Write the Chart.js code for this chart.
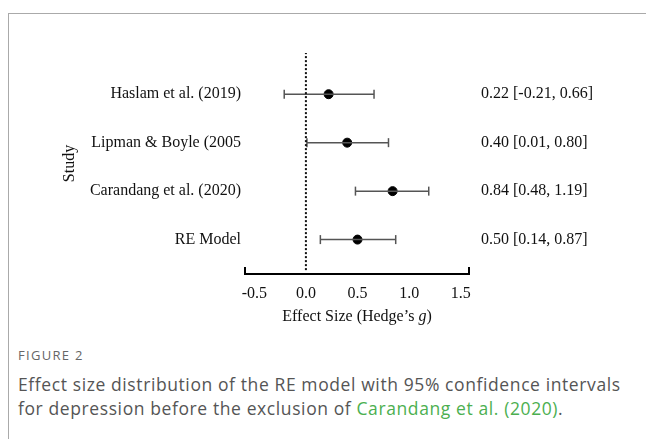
<!DOCTYPE html>
<html>
<head>
<meta charset="utf-8">
<script src="https://cdn.jsdelivr.net/npm/chart.js@4"></script>
<style>
  html, body { margin: 0; padding: 0; background: #fff; }
  body { width: 646px; height: 439px; position: relative; overflow: hidden; }
  .frame { position: absolute; left: 8px; top: 13px; right: 0; bottom: 0;
           border-top: 1px solid #aaa; border-left: 1px solid #aaa; }
  .plot { position: absolute; left: 0; top: 0; width: 646px; height: 340px; }
  .fig { position: absolute; left: 18px; top: 346px; font-family: "Open Sans", sans-serif;
         font-size: 13px; color: #666; letter-spacing: 1.3px; }
  .cap { position: absolute; left: 18px; top: 372px; width: 618px; font-family: "Open Sans", sans-serif;
         font-size: 17.5px; line-height: 24px; color: #555; letter-spacing: 0.6px; }
  .cap span { color: #4caf50; }
</style>
</head>
<body>
<div class="frame"></div>
<div class="plot"><canvas id="forest" width="646" height="340"></canvas></div>
<div class="fig">FIGURE 2</div>
<div class="cap">Effect size distribution of the RE model with 95% confidence intervals for depression before the exclusion of <span>Carandang et al. (2020)</span>.</div>
<script>
// studies listed top to bottom
const studies = ['Haslam et al. (2019)', 'Lipman & Boyle (2005', 'Carandang et al. (2020)', 'RE Model'];
const effects = [0.22, 0.40, 0.84, 0.50];
const lower = [-0.21, 0.01, 0.48, 0.14];
const upper = [0.66, 0.80, 1.19, 0.87];
const xTicks = [-0.5, 0.0, 0.5, 1.0, 1.5];

const rowY = studies.map((s, i) => studies.length - i); // 4,3,2,1
const serif = "'Liberation Serif', 'Times New Roman', serif";

// whisker per study, caps drawn as rotated line points
const ciSets = studies.map((s, i) => ({
    type: 'line',
    data: [{x: lower[i], y: rowY[i]}, {x: upper[i], y: rowY[i]}],
    borderColor: '#555',
    borderWidth: 1.5,
    pointStyle: 'line',
    rotation: 90,
    pointRadius: 4.5,
    pointBorderColor: '#555',
    pointBorderWidth: 1.5
}));

// little upward caps at both ends of the x axis line, plus the axis title with italic g
const axisExtras = {
    id: 'axisExtras',
    afterDraw(chart) {
        const sx = chart.scales.x;
        const c = chart.ctx;
        const yb = chart.chartArea.bottom;
        c.save();
        c.strokeStyle = '#000';
        c.lineWidth = 2;
        [sx.min, sx.max].forEach(v => {
            const px = sx.getPixelForValue(v);
            c.beginPath();
            c.moveTo(px, yb + 1);
            c.lineTo(px, yb - 7);
            c.stroke();
        });

        const parts = [['Effect Size (Hedge\u2019s ', ''], ['g', 'italic '], [')', '']];
        let total = 0;
        parts.forEach(p => { c.font = p[1] + '16px ' + serif; total += c.measureText(p[0]).width; });
        let x = (chart.chartArea.left + chart.chartArea.right) / 2 - total / 2;
        c.fillStyle = '#111';
        c.textBaseline = 'middle';
        parts.forEach(p => {
            c.font = p[1] + '16px ' + serif;
            c.fillText(p[0], x, yb + 43);
            x += c.measureText(p[0]).width;
        });
        c.restore();
    }
};

const rowTicks = scale => { scale.ticks = rowY.map(v => ({value: v})); };

new Chart(document.getElementById('forest').getContext('2d'), {
    type: 'scatter',
    data: {
        datasets: [
            {
                type: 'line',
                data: [{x: 0, y: 0.37}, {x: 0, y: 4.85}],
                borderColor: '#111',
                borderWidth: 2,
                borderDash: [2, 2],
                pointRadius: 0
            },
            ...ciSets,
            {
                data: effects.map((v, i) => ({x: v, y: rowY[i]})),
                backgroundColor: '#000',
                borderColor: '#000',
                pointRadius: 4.5
            }
        ]
    },
    options: {
        responsive: false,
        animation: false,
        events: [],
        layout: { padding: { left: 60, right: 10, top: 53, bottom: 6 } },
        plugins: { legend: { display: false }, tooltip: { enabled: false } },
        scales: {
            x: {
                type: 'linear',
                min: -0.59,
                max: 1.58,
                afterBuildTicks: s => { s.ticks = xTicks.map(v => ({value: v})); },
                afterFit: s => { s.height = 60; },
                grid: { display: false, drawTicks: false },
                border: { display: true, color: '#000', width: 2 },
                ticks: {
                    padding: 10,
                    color: '#111',
                    font: { family: serif, size: 16 },
                    callback: v => v.toFixed(1)
                }
            },
            y: {
                type: 'linear',
                position: 'left',
                min: 0.29,
                max: 4.85,
                afterBuildTicks: rowTicks,
                afterFit: s => { s.width = 185; },
                grid: { display: false, drawTicks: false },
                border: { display: false },
                ticks: {
                    padding: 4,
                    color: '#111',
                    font: { family: serif, size: 16 },
                    callback: v => studies[rowY.indexOf(v)]
                },
                title: {
                    display: true,
                    text: 'Study',
                    color: '#111',
                    font: { family: serif, size: 16 },
                    padding: 0
                }
            },
            yr: {
                type: 'linear',
                position: 'right',
                min: 0.29,
                max: 4.85,
                afterBuildTicks: rowTicks,
                afterFit: s => { s.width = 167; },
                grid: { display: false, drawTicks: false },
                border: { display: false },
                ticks: {
                    padding: 12,
                    color: '#111',
                    font: { family: serif, size: 16 },
                    callback: v => {
                        const i = rowY.indexOf(v);
                        return effects[i].toFixed(2) + ' [' + lower[i].toFixed(2) + ', ' + upper[i].toFixed(2) + ']';
                    }
                }
            }
        }
    },
    plugins: [axisExtras]
});
</script>
</body>
</html>
